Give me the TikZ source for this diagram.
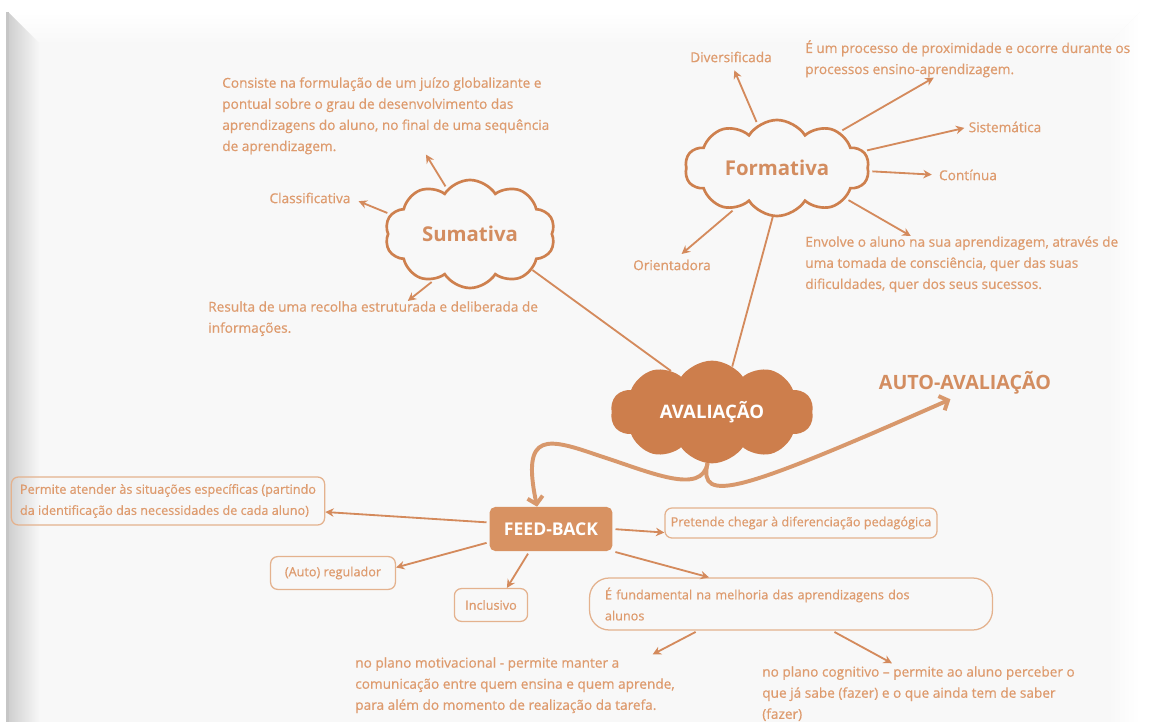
\documentclass[tikz,border=0pt]{standalone}
\usepackage{fontspec}
\setmainfont{Open Sans}
\newfontfamily\semib{Open Sans}[FakeBold=0.6]
\usetikzlibrary{shapes.symbols,arrows.meta,positioning}

\definecolor{txtor}{RGB}{222,155,110}
\definecolor{lineor}{RGB}{212,138,92}
\definecolor{cloudor}{RGB}{206,128,78}
\definecolor{avalor}{RGB}{205,126,76}
\definecolor{fbor}{RGB}{216,146,98}
\definecolor{boxor}{RGB}{228,178,142}
\definecolor{curveor}{RGB}{216,152,108}
\definecolor{pagebg}{RGB}{248,248,248}

\tikzset{
  texto/.style={font=\semib\fontsize{9.7}{15}\selectfont, text=txtor, align=left, inner sep=0pt},
  nuvem/.style={cloud, cloud puffs=10, cloud puff arc=115, cloud ignores aspect,
    draw=cloudor, line width=1.9pt, text=cloudor!90!white, font=\fontsize{14.5}{16}\selectfont\bfseries},
  caixa/.style={texto, font=\semib\fontsize{9}{15}\selectfont, draw=boxor, line width=0.9pt, rounded corners=5pt, inner sep=4pt},
  seta/.style={draw=lineor, line width=1.3pt, -{Stealth[length=6pt,width=6pt]}, shorten <=2pt},
  ligacao/.style={draw=lineor, line width=1.3pt},
  grossa/.style={draw=curveor, line width=2.8pt},
  farpa/.style={-{Straight Barb[length=5pt,width=11pt]}},
}

\begin{document}
\begin{tikzpicture}[x=0.025cm,y=-0.025cm]
% fundo e moldura
\useasboundingbox (0,0) rectangle (1152,722);
\fill[white] (0,0) rectangle (1152,722);
\fill[pagebg] (8,12) rectangle (1140,722);
\shade[top color=white, bottom color=pagebg] (8,12) -- (1140,12) -- (1108,44) -- (40,44) -- cycle;
\shade[left color=pagebg, right color=white] (1108,44) -- (1140,12) -- (1140,722) -- (1108,722) -- cycle;
\shade[left color=gray!38, right color=pagebg] (8,12) -- (40,44) -- (40,722) -- (8,722) -- cycle;
\fill[gray!45] (6,12) rectangle (9,722);

% nuvens
\node[nuvem, minimum width=4.25cm, minimum height=2.7cm] (sum) at (470,234) {Sumativa};
\node[nuvem, minimum width=4.6cm, minimum height=2.4cm] (form) at (777,168) {Formativa};
\node[nuvem, minimum width=5cm, minimum height=2.5cm, fill=avalor, draw=avalor, text=white,
  font=\fontsize{13.2}{14}\selectfont\bfseries] (aval) at (712,412) {AVALIAÇÃO};

% textos da sumativa
\node[texto, anchor=north west] (consiste) at (222,77) {Consiste na formulação de um juízo globalizante e\\
  pontual sobre o grau de desenvolvimento das\\ aprendizagens do aluno, no final de uma sequência\\ de aprendizagem.};
\node[texto] (classif) at (310,198) {Classificativa};
\node[texto, anchor=north west] (resulta) at (208,301) {Resulta de uma recolha estruturada e deliberada de\\ informações.};

% textos da formativa
\node[texto] (divers) at (731,57) {Diversificada};
\node[texto, anchor=north west] (processo) at (805,40) {É um processo de proximidade e ocorre durante os\\ processos ensino-aprendizagem.};
\node[texto] (sistem) at (1005,127) {Sistemática};
\node[texto] (contin) at (968,175) {Contínua};
\node[texto, anchor=north west] (envolve) at (805,236) {Envolve o aluno na sua aprendizagem, através de\\
  uma tomada de consciência, quer das suas\\ dificuldades, quer dos seus sucessos.};
\node[texto] (orient) at (672,265) {Orientadora};

\node[texto, text=cloudor!90!white, font=\fontsize{14}{16}\selectfont\bfseries] (autoav) at (965,383) {AUTO-AVALIAÇÃO};

% feed-back
\node[fill=fbor, rounded corners=4pt, text=white, font=\fontsize{12.5}{14}\selectfont\bfseries,
  minimum width=3.07cm, minimum height=1.1cm] (feedback) at (551,529) {FEED-BACK};
\node[caixa, minimum width=7.83cm, minimum height=1.2cm] (perm) at (168,501) {Permite atender às situações específicas (partindo\\ da identificação das necessidades de cada aluno)};
\node[caixa, minimum width=6.8cm, minimum height=0.75cm] (pret) at (801,523) {Pretende chegar à diferenciação pedagógica};
\node[caixa, minimum width=3.12cm, minimum height=0.82cm] (regul) at (333,573) {(Auto) regulador};
\node[caixa, minimum width=1.83cm, minimum height=0.82cm] (incl) at (491,605) {Inclusivo};
\node[caixa, rounded corners=14pt, minimum width=10.07cm, minimum height=1.3cm, text width=9.3cm] (fund) at (791,604) {É fundamental na melhoria das aprendizagens dos\\ alunos};
\node[texto, anchor=north west] (motiv) at (355,657) {no plano motivacional - permite manter a\\
  comunicação entre quem ensina e quem aprende,\\ para além do momento de realização da tarefa.};
\node[texto, anchor=north west] (cognit) at (762,666) {no plano cognitivo – permite ao aluno perceber o\\
  que já sabe (fazer) e o que ainda tem de saber\\ (fazer)};

% setas
\draw[seta] (sum.117) -- (consiste.-44);
\draw[seta, shorten >=6pt] (sum.166) -- (classif.east);
\draw[seta] (sum.232) -- (resulta.27);
\draw[seta, shorten >=6pt] (form.114) -- (divers.south);
\draw[seta] (form.30) -- (processo.209);
\draw[seta, shorten >=3pt] (form.11) -- (sistem.west);
\draw[seta, shorten >=5pt] (form.-2) -- (contin.west);
\draw[seta] (form.-24) -- (envolve.151);
\draw[seta, shorten >=6pt] (form.224) -- (orient.60);
\draw[ligacao] (form.-95) -- (aval.66);
\draw[ligacao] (sum.-30) -- (aval.135);

\draw[grossa, farpa, {Straight Barb[length=5pt,width=11pt]}-] (feedback.122) .. controls (521,430) and (548,438) .. (600,456)
  .. controls (650,472) and (702,496) .. (aval.265);
\draw[grossa, farpa, shorten >=8pt] (aval.265) .. controls (698,505) and (740,492) .. (autoav.250);

\draw[seta] (feedback.174) -- (perm.-4);
\draw[seta] (feedback.east) -- (pret.184);
\draw[seta] (feedback.192) -- (regul.5);
\draw[seta] (feedback.226) -- (incl.47);
\draw[seta] (feedback.south east) -- (fund.162);
\draw[seta, shorten >=4pt] (fund.196) -- (motiv.12);
\draw[seta, shorten >=4pt] (fund.-33) -- (cognit.128);
\end{tikzpicture}
\end{document}
